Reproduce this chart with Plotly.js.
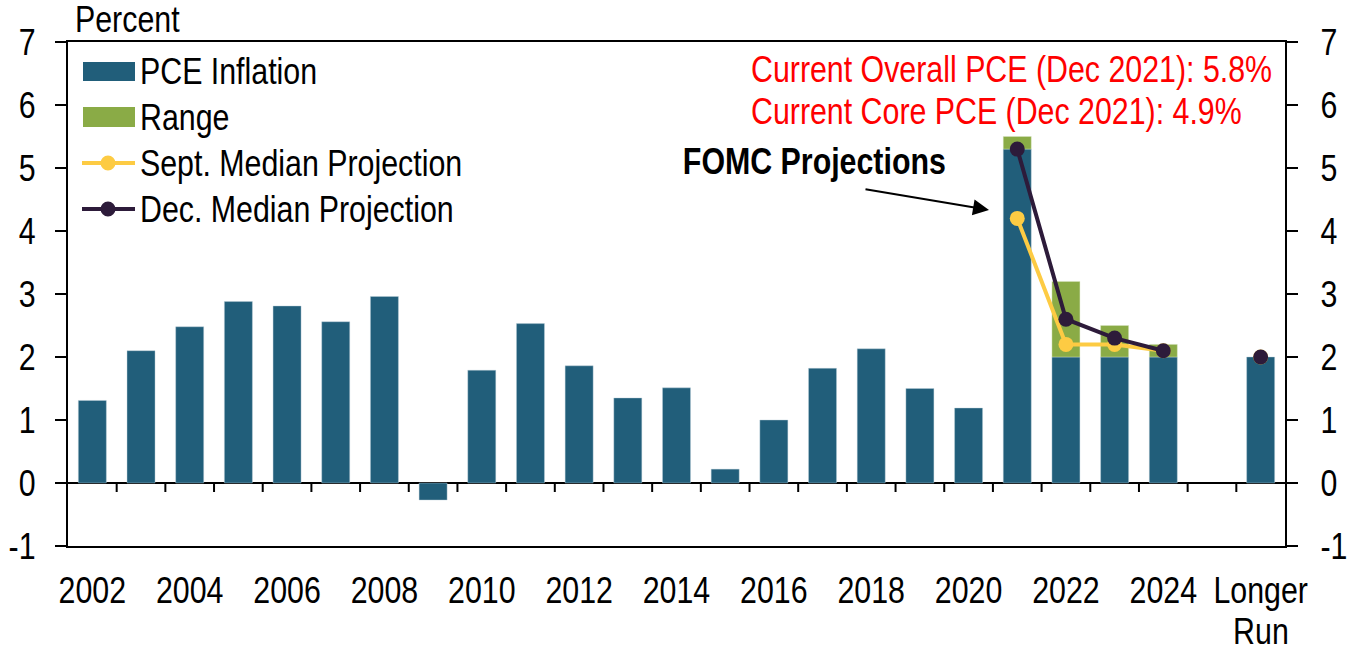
<!DOCTYPE html>
<html>
<head>
<meta charset="utf-8">
<script src="https://cdn.plot.ly/plotly-3.0.1.min.js"></script>
<style>html,body{margin:0;padding:0;background:#fff;}#chart{width:1352px;height:648px;}</style>
</head>
<body>
<div id="chart"></div>
<script>
// ---- Data ----
const categories = ['2002','2003','2004','2005','2006','2007','2008','2009','2010','2011','2012','2013','2014','2015','2016','2017','2018','2019','2020','2021','2022','2023','2024','','Longer Run'];
const pceInflation = [1.31,2.10,2.48,2.88,2.81,2.56,2.96,-0.27,1.79,2.53,1.86,1.35,1.51,0.22,1.00,1.82,2.13,1.50,1.19,5.3,2.0,2.0,2.0,null,2.0];
const rangeTop     = [null,null,null,null,null,null,null,null,null,null,null,null,null,null,null,null,null,null,null,5.5,3.2,2.5,2.2,null,null];
const septMedian   = [null,null,null,null,null,null,null,null,null,null,null,null,null,null,null,null,null,null,null,4.2,2.2,2.2,2.1,null,2.0];
const decMedian    = [null,null,null,null,null,null,null,null,null,null,null,null,null,null,null,null,null,null,null,5.3,2.6,2.3,2.1,null,2.0];
const tickCategories = ['2002','2004','2006','2008','2010','2012','2014','2016','2018','2020','2022','2024','Longer Run'];
const yTickValues = [-1,0,1,2,3,4,5,6,7];
const yTickLabels = ['-1','0','1','2','3','4','5','6','7'];
const legendNames = ['PCE Inflation','Range','Sept. Median Projection','Dec. Median Projection'];
const noteLines = ['Current Overall PCE (Dec 2021): 5.8%','Current Core PCE (Dec 2021): 4.9%'];

// ---- Styling ----
const FONT = "'Liberation Sans', Arial, sans-serif";
const FS = 37;
const NARROW = 0.82; // horizontal condensing to mimic a narrow face
const C_BLUE = '#215E7A', C_GREEN = '#8AAB46', C_YEL = '#FDCB43', C_PUR = '#2D1B3A';
const W = 1352, H = 648, L = 68, R = 1285, T = 42, B = 546;
const px = v => (v - L) / (R - L);
const py = v => (B - v) / (B - T);

const xIdx = categories.map((_, i) => i);
const rangeBase = pceInflation.map((v, i) => rangeTop[i] == null ? null : v);
const rangeHeight = rangeTop.map((v, i) => v == null ? null : v - pceInflation[i]);
const tickVals = tickCategories.map(t => categories.indexOf(t));
const tickText = tickCategories.map(t => t.split(' ')[0]);
const secondLines = tickCategories.map((t, i) => ({x: tickVals[i], text: t.split(' ').slice(1).join(' ')})).filter(o => o.text);
const boundaries = xIdx.slice(0, -1).map(i => i + 0.5);

const traces = [
  {type:'bar', x:xIdx, y:pceInflation, width:0.575, marker:{color:C_BLUE, line:{color:'rgba(190,210,220,0.7)', width:0.6}}, showlegend:false, hoverinfo:'y', name:legendNames[0]},
  {type:'bar', x:xIdx, y:rangeHeight, base:rangeBase, width:0.575, marker:{color:C_GREEN, line:{color:'rgba(220,230,200,0.7)', width:0.6}}, showlegend:false, hoverinfo:'y', name:legendNames[1]},
  {type:'scatter', mode:'lines+markers', x:xIdx, y:septMedian, connectgaps:false, line:{color:C_YEL, width:4}, marker:{color:C_YEL, size:15}, showlegend:false, name:legendNames[2]},
  {type:'scatter', mode:'lines+markers', x:xIdx, y:decMedian, connectgaps:false, line:{color:C_PUR, width:4}, marker:{color:C_PUR, size:15}, showlegend:false, name:legendNames[3]},
  {type:'scatter', mode:'markers', x:[0], y:[0], yaxis:'y2', marker:{opacity:0}, hoverinfo:'skip', showlegend:false}
];

const shapes = [];
boundaries.forEach(b => shapes.push({type:'line', xref:'x', yref:'y', ysizemode:'pixel', yanchor:0, x0:b, x1:b, y0:0, y1:-9, line:{color:'#000', width:2}}));
const legY = [71.5, 117, 163, 209];
shapes.push({type:'rect', xref:'paper', yref:'paper', x0:px(83), x1:px(135), y0:py(81), y1:py(62), fillcolor:C_BLUE, line:{width:0}});
shapes.push({type:'rect', xref:'paper', yref:'paper', x0:px(83), x1:px(135), y0:py(127), y1:py(107), fillcolor:C_GREEN, line:{width:0}});
[[C_YEL, legY[2]], [C_PUR, legY[3]]].forEach(([c, yy]) => {
  shapes.push({type:'line', xref:'paper', yref:'paper', x0:px(82), x1:px(135), y0:py(yy), y1:py(yy), line:{color:c, width:4}});
  shapes.push({type:'circle', xref:'paper', yref:'paper', xsizemode:'pixel', ysizemode:'pixel', xanchor:px(108), yanchor:py(yy), x0:-7.5, x1:7.5, y0:-7.5, y1:7.5, fillcolor:c, line:{width:0}});
});

const txt = (color) => ({family:FONT, size:FS, color:color || '#000'});
const annotations = [
  {xref:'paper', yref:'paper', x:px(73), y:py(20), xanchor:'left', yanchor:'middle', align:'left', text:'Percent', showarrow:false, font:txt()},
  {xref:'paper', yref:'paper', x:px(814), y:py(161), xanchor:'center', yanchor:'middle', text:'<b>FOMC Projections</b>', showarrow:false, font:txt()},
  {xref:'paper', yref:'paper', x:px(989), y:py(210), text:'', showarrow:true, axref:'pixel', ayref:'pixel', ax:864-989, ay:189-210, arrowhead:2, arrowsize:1.6, arrowwidth:2, arrowcolor:'#000'},
  {xref:'paper', yref:'paper', x:px(749), y:py(69), xanchor:'left', yanchor:'middle', align:'left', text:noteLines[0], showarrow:false, font:txt('#FF0000')},
  {xref:'paper', yref:'paper', x:px(749), y:py(112), xanchor:'left', yanchor:'middle', align:'left', text:noteLines[1], showarrow:false, font:txt('#FF0000')}
];
legendNames.forEach((n, i) => annotations.push({xref:'paper', yref:'paper', x:px(138), y:py(legY[i]), xanchor:'left', yanchor:'middle', align:'left', text:n, showarrow:false, font:txt()}));
secondLines.forEach(o => annotations.push({xref:'x', yref:'paper', x:o.x, y:py(631), xanchor:'center', yanchor:'middle', text:o.text, showarrow:false, font:txt()}));

const yCommon = {range:[-1,7], tickmode:'array', tickvals:yTickValues, ticktext:yTickLabels, showgrid:false, ticks:'outside', ticklen:11, tickwidth:2, tickcolor:'#000', showline:true, linewidth:2, linecolor:'#000', tickfont:txt(), fixedrange:true};

const layout = {
  width:W, height:H,
  margin:{l:L, r:W-R, t:T, b:H-B, pad:0},
  paper_bgcolor:'#fff', plot_bgcolor:'#fff',
  barmode:'overlay', bargap:0,
  showlegend:false,
  font:txt(),
  xaxis:{range:[-0.5, categories.length-0.5], tickmode:'array', tickvals:tickVals, ticktext:tickText, tickangle:0, ticks:'', showgrid:false, zeroline:false, showline:true, mirror:true, linewidth:2, linecolor:'#000', tickfont:txt(), ticklabelstandoff:11, fixedrange:true},
  yaxis:Object.assign({}, yCommon, {side:'left', zeroline:true, zerolinewidth:2, zerolinecolor:'#000', ticklabelstandoff:12}),
  yaxis2:Object.assign({}, yCommon, {side:'right', overlaying:'y', matches:'y', zeroline:false, ticklabelstandoff:15}),
  shapes:shapes,
  annotations:annotations
};

function condense(gd){
  gd.querySelectorAll('svg text').forEach(t => {
    const lines = t.querySelectorAll('tspan.line');
    const targets = lines.length ? Array.from(lines) : [t];
    targets.forEach(el => {
      const len = el.getComputedTextLength();
      if (len > 0) {
        el.setAttribute('textLength', (len * NARROW).toFixed(2));
        el.setAttribute('lengthAdjust', 'spacingAndGlyphs');
      }
    });
  });
}

Plotly.newPlot('chart', traces, layout, {displayModeBar:false, staticPlot:true}).then(condense);
</script>
</body>
</html>
